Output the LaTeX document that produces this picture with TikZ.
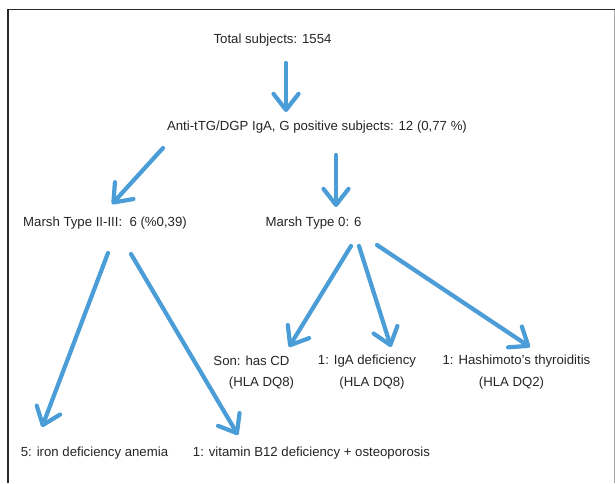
\documentclass[tikz,border=0pt]{standalone}
\usepackage{fontspec}
\setmainfont{Liberation Sans}
\usetikzlibrary{arrows.meta}
\definecolor{arrowblue}{RGB}{74,157,214}
\definecolor{framegray}{RGB}{40,40,40}
\begin{document}
\begin{tikzpicture}[x=1pt,y=-1pt,
  lbl/.style={inner sep=0pt,font=\fontsize{13.2}{16}\selectfont,text=black!85},
  conn/.style={draw=arrowblue,line width=4.2pt,line cap=round,
    -{Straight Barb[length=16pt,width=25pt,round]}}]
\useasboundingbox (0,0) rectangle (615,483);
\fill[white] (0,0) rectangle (615,483);
% frame
\draw[framegray,line width=1.6pt] (8,483) -- (8,9.5) -- (615,9.5);
\draw[black!35,line width=0.8pt] (614,9.5) -- (614,483);
% texts
\node[lbl] (total) at (272.5,40) {Total subjects: 1554};
\node[lbl] (anti) at (317,127) {Anti-tTG/DGP IgA, G positive subjects: 12 (0,77 \%)};
\node[lbl] (m23) at (105,223) {Marsh Type II-III:\ \ 6 (\%0,39)};
\node[lbl] (m0) at (313.5,223) {Marsh Type 0: 6};
\node[lbl] (son) at (251.5,361) {Son: has CD};
\node[lbl] (son2) at (261.5,383) {(HLA DQ8)};
\node[lbl] (iga) at (367,361) {1: IgA deficiency};
\node[lbl] (iga2) at (372,383) {(HLA DQ8)};
\node[lbl] (hash) at (516.5,361) {1: Hashimoto's thyroiditis};
\node[lbl] (hash2) at (511.5,383) {(HLA DQ2)};
\node[lbl] (iron) at (94.5,453) {5: iron deficiency anemia};
\node[lbl] (vit) at (311.5,453) {1: vitamin B12 deficiency + osteoporosis};
% connector end points
\coordinate (a1s) at (286,63);   \coordinate (a1e) at (286,112);
\coordinate (a2s) at (163,148);  \coordinate (a2e) at (112,204);
\coordinate (a3s) at (336,155);  \coordinate (a3e) at (336,207);
\coordinate (a4s) at (108,253);  \coordinate (a4e) at (42,427);
\coordinate (a5s) at (131,254);  \coordinate (a5e) at (238,435);
\coordinate (a6s) at (351,246);  \coordinate (a6e) at (289,347);
\coordinate (a7s) at (359,246);  \coordinate (a7e) at (391,347);
\coordinate (a8s) at (377,245);  \coordinate (a8e) at (530,347);
% connectors
\draw[conn] (a1s) -- (a1e);
\draw[conn] (a2s) -- (a2e);
\draw[conn] (a3s) -- (a3e);
\draw[conn] (a4s) -- (a4e);
\draw[conn] (a5s) -- (a5e);
\draw[conn] (a6s) -- (a6e);
\draw[conn] (a7s) -- (a7e);
\draw[conn] (a8s) -- (a8e);
\end{tikzpicture}
\end{document}
